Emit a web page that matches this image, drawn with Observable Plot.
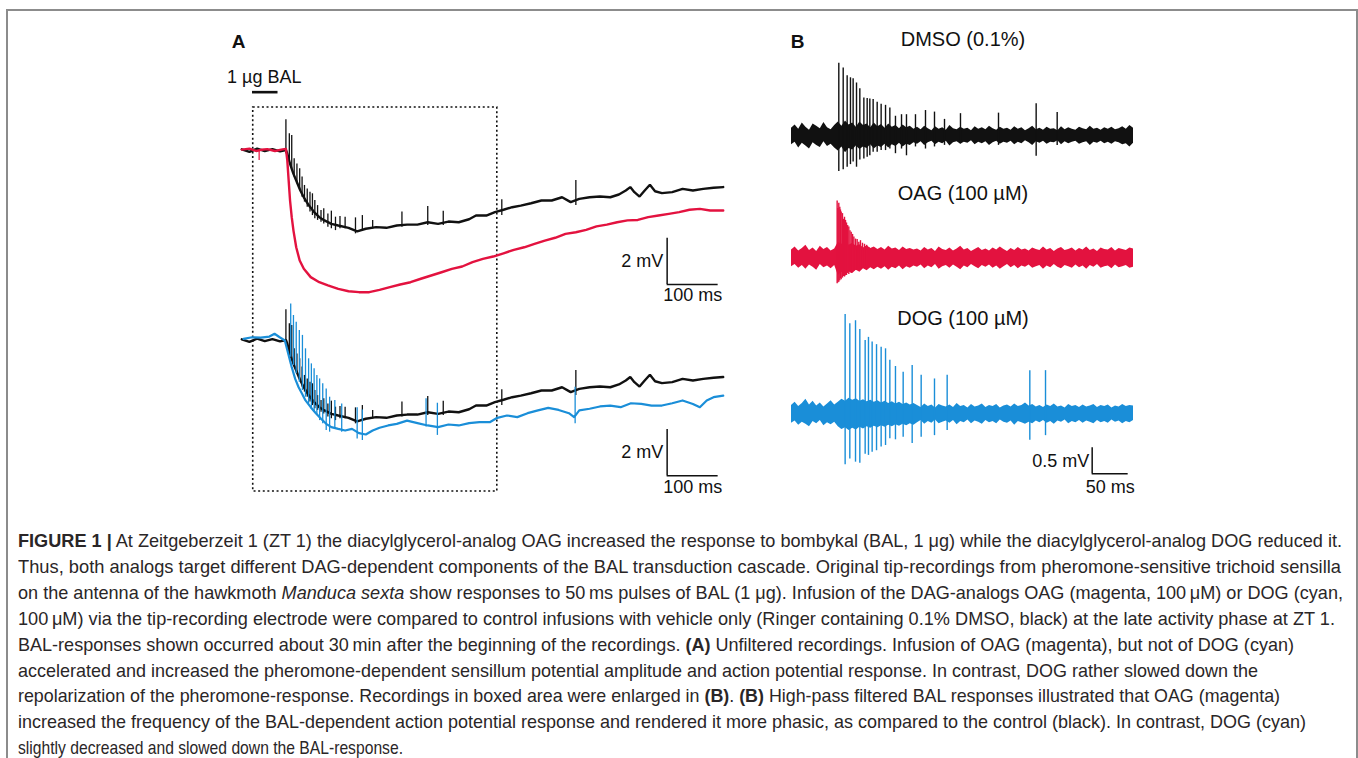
<!DOCTYPE html>
<html>
<head>
<meta charset="utf-8">
<script src="https://cdn.jsdelivr.net/npm/d3@7"></script>
<script src="https://cdn.jsdelivr.net/npm/@observablehq/plot@0.6"></script>
<style>
  body { margin: 0; background: #fff; }
  #fig { position: relative; width: 1358px; height: 758px; overflow: hidden; background: #fff; font-family: "Liberation Sans", Arial, sans-serif; color: #111; }
  #frame { position: absolute; left: 6px; top: 9px; width: 1348px; height: 800px; border: 2px solid #8c8c8c; border-bottom: none; }
  .lbl { position: absolute; white-space: nowrap; }
  .cap { position: absolute; white-space: nowrap; left: 18px; font-size: 19px; line-height: 22.8px; color: #2a2627; transform-origin: 0 0; }
  #panelA, #panelB { position: absolute; }
</style>
</head>
<body>
<div id="fig">
  <div id="frame"></div>
  <div id="panelA" style="left:200px;top:20px"></div>
  <div id="panelB" style="left:760px;top:20px"></div>
</div>
<script>
// ---------------- DATA (t in ms, v in mV) ----------------
// Panel A: unfiltered recordings
const dmsoA = [[0,0.05],[15,-0.06],[30,0.08],[45,-0.03],[60,0.06],[75,-0.04],[86.5,0.02],
[89.2,-0.14],[94.6,-0.58],[101.3,-1.01],[108.1,-1.37],[114.8,-1.73],[121.6,-2.02],[131.7,-2.38],[141.8,-2.66],[151.9,-2.88],[162.1,-3.02],[175.6,-3.17],[189.1,-3.24],[209.3,-3.34],[226.2,-3.49],[243.1,-3.38],[263.4,-3.31],[283.6,-3.34],[303.9,-3.24],[324.1,-3.20],[344.4,-3.20],[364.6,-3.10],[384.9,-3.17],[405.2,-3.07],[425.4,-3.10],[445.7,-2.97],[459.2,-2.81],[479.4,-2.81],[496.3,-2.66],[513.2,-2.56],[530.1,-2.45],[547.0,-2.38],[567.2,-2.28],[587.5,-2.16],[607.7,-2.16],[628.0,-2.02],[644.9,-2.23],[661.7,-2.09],[682.0,-2.02],[702.2,-1.99],[722.5,-2.02],[739.4,-1.90],[752.9,-1.73],[761.7,-1.58],[769.8,-1.80],[779.9,-1.99],[790.0,-1.73],[800.2,-1.48],[810.3,-1.76],[823.8,-1.84],[844.0,-1.80],[864.3,-1.66],[884.5,-1.73],[904.8,-1.66],[925.0,-1.61],[943.9,-1.58]];
const dmsoSpikesA = [[86.5,1.33,-0.14],[93.2,0.72,-0.50],[97.9,0.65,-0.79],[102.7,-0.36,-1.15],[108.1,-0.58,-1.44],[113.5,-0.79,-1.73],[118.2,-1.15,-2.02],[122.9,-1.51,-2.23],[128.3,-1.66,-2.45],[133.7,-1.80,-2.66],[138.5,-1.87,-2.81],[143.2,-2.16,-2.95],[148.6,-2.38,-3.02],[155.3,-2.59,-3.10],[160.7,-2.52,-3.17],[168.8,-2.74,-3.31],[175.6,-2.62,-3.38],[183.7,-2.88,-3.46],[192.5,-2.85,-3.38],[202.6,-2.88,-3.38],[222.9,-2.91,-3.60],[236.4,-2.81,-3.49],[256.6,-3.02,-3.38],[314.0,-2.66,-3.31],[364.6,-2.42,-3.24],[395.0,-2.62,-3.24],[509.8,-2.13,-2.81],[655.0,-1.30,-2.38]];
const oagA = [[0,0.04],[15,0.08],[28,-0.02],[38,0.03],[50,0.06],[65,-0.02],[80,0.05],[86.5,0.07],[89.2,-0.43],[91.9,-1.30],[94.6,-2.16],[97.9,-2.88],[101.3,-3.46],[106.7,-4.18],[113.5,-4.75],[121.6,-5.11],[135.1,-5.47],[151.9,-5.69],[168.8,-5.83],[189.1,-5.98],[209.3,-6.08],[229.6,-6.12],[249.9,-6.12],[270.1,-6.02],[290.4,-5.90],[310.6,-5.79],[330.9,-5.69],[351.1,-5.54],[371.4,-5.40],[391.7,-5.26],[411.9,-5.11],[432.2,-5.01],[452.4,-4.82],[472.7,-4.68],[492.9,-4.58],[513.2,-4.44],[533.5,-4.29],[553.7,-4.18],[574.0,-4.03],[594.2,-3.89],[614.5,-3.77],[634.7,-3.60],[655.0,-3.53],[675.2,-3.43],[695.5,-3.28],[715.7,-3.20],[736.0,-3.10],[756.3,-3.02],[776.5,-3.00],[796.8,-2.88],[817.0,-2.81],[837.3,-2.74],[857.6,-2.66],[877.8,-2.56],[898.1,-2.52],[918.3,-2.59],[944.0,-2.59]];
const oagSpikesA = [[34,0.02,-0.43]];
const dogA = [[3.4,0.07],[20.3,0.14],[37.2,0.12],[54.1,0.17],[64.2,0.29],[74.3,0.14],[84.4,0.0],[91.2,-0.58],[97.9,-1.15],[104.7,-1.66],[111.4,-2.02],[118.2,-2.30],[124.9,-2.59],[135.1,-2.88],[145.2,-3.14],[155.3,-3.38],[165.5,-3.60],[175.6,-3.74],[189.1,-3.82],[202.6,-3.89],[216.1,-3.82],[229.6,-4.00],[243.1,-4.06],[256.6,-3.89],[270.1,-3.77],[287.0,-3.67],[303.9,-3.60],[324.1,-3.46],[344.4,-3.57],[364.6,-3.67],[384.9,-3.74],[405.2,-3.63],[425.4,-3.67],[445.7,-3.57],[465.9,-3.53],[486.2,-3.53],[501.0,-3.34],[519.9,-3.24],[540.2,-3.31],[560.4,-3.14],[580.7,-3.02],[600.9,-2.91],[621.2,-3.00],[641.5,-3.14],[651.6,-3.31],[661.7,-3.02],[682.0,-2.95],[702.2,-2.85],[722.5,-2.81],[742.8,-2.88],[763.0,-2.71],[783.3,-2.74],[803.5,-2.81],[823.8,-2.81],[844.0,-2.71],[864.3,-2.59],[884.5,-2.74],[898.1,-2.88],[911.6,-2.59],[925.0,-2.45],[944.0,-2.38]];
const dogSpikesA = [[95.9,1.58,-0.72],[101.3,1.08,-1.08],[106.7,0.79,-1.44],[112.8,0.43,-1.80],[118.9,0.22,-2.16],[124.9,-0.36,-2.45],[131.0,-0.79,-2.74],[136.4,-1.01,-2.95],[141.8,-1.22,-3.10],[147.2,-1.51,-3.24],[152.6,-1.66,-3.46],[158.7,-1.87,-3.60],[165.5,-2.09,-3.89],[172.2,-2.45,-3.96],[182.4,-2.59,-3.82],[195.9,-2.74,-3.96],[226.2,-2.91,-4.25],[236.4,-3.00,-4.32],[361.3,-2.52,-3.74],[383.5,-2.71,-4.10],[653.6,-2.02,-3.60]];
const stimulusA = {start: 21, end: 71, label: "1 µg BAL"};
const boxA = {t1: 22.4, t2: 501, v1: -14.73, v2: 1.86};

// Panel B: high-pass filtered. Noise envelope sampled every 5 ms (values in 0.01 mV), spikes [t, top, bottom]
const noiseStepB = 5;
const dmsoHiB = [14,20,12,24,16,10,22,18,13,25,15,11,19, 26,18,28,20,24,16,26,19,22,15,24,17,21,14,22,16,19,13,20,15,18,12, 16,11,18,13,9,17,12,15,10,19,13,11,16,12,14,9,17,12,15,11,18,13,10,16,12,14,10,17,12,15,9,13,18,11,14,10,16,12,13,9,17,11,15,12,10,16,13,11,18,12,14,10,15,12,16,11,13,17,12,19,14];
const dmsoLoB = [18,13,24,15,20,26,14,19,23,12,21,17,24, 30,22,33,25,28,20,27,22,25,18,26,20,23,17,24,18,21,15,22,17,19,14, 17,12,19,14,11,18,13,16,11,20,14,12,17,13,15,10,18,13,16,12,19,14,11,17,13,15,11,18,13,16,10,14,19,12,15,11,17,13,14,10,18,12,16,13,11,17,14,12,19,13,15,11,16,13,17,12,14,18,16,22,15];
const oagHiB = [15,21,13,18,24,14,19,12,22,16,20,13,17, 30,26,32,24,28,22,25,19,23,18,21,16,20,15,22,17,19,14,21,16,18,15, 17,13,20,15,18,12,21,16,14,19,13,17,22,15,18,12,16,20,14,17,13,19,15,21,16,12,18,14,20,15,17,13,19,16,14,21,15,18,12,17,20,14,16,19,13,18,15,21,14,17,12,19,16,15,20,13,18,16,14,19,17];
const oagLoB = [17,13,20,15,22,14,18,24,13,19,16,21,15, 34,28,36,27,30,24,28,21,25,19,23,18,22,17,24,18,21,16,23,17,20,16, 18,14,21,16,19,13,22,17,15,20,14,18,23,16,19,13,17,21,15,18,14,20,16,22,17,13,19,15,21,16,18,14,20,17,15,22,16,19,13,18,21,15,17,20,14,19,16,22,15,18,13,20,17,16,21,14,19,17,15,20,18];
const dogHiB = [16,22,14,20,28,17,24,15,21,13,19,25,17, 22,28,24,30,26,29,24,27,23,26,22,25,21,24,20,23,19,22,18,21,17,20, 16,12,19,14,17,11,18,15,13,17,12,20,14,16,11,18,13,15,19,12,16,14,18,11,15,17,13,19,14,16,21,15,18,13,16,12,17,14,19,13,15,11,18,14,16,12,17,13,15,18,12,16,14,17,11,15,13,18,14,16,15];
const dogLoB = [18,14,22,16,20,25,15,19,13,23,17,21,16, 25,30,27,32,28,31,26,29,25,28,24,27,23,26,22,25,21,24,20,23,19,22, 17,13,20,15,18,12,19,16,14,18,13,21,15,17,12,19,14,16,20,13,17,15,19,12,16,18,14,22,15,17,20,16,19,14,17,13,18,15,20,14,16,12,19,15,17,13,18,14,16,19,13,17,15,18,12,16,14,19,15,17,13];
const dmsoSpikesB = [[65.7,1.39,-0.69],[71.8,1.30,-0.66],[77.3,1.15,-0.61],[81.9,1.11,-0.56],[85.6,1.09,-0.51],[90.3,1.01,-0.61],[94.9,0.90,-0.47],[100.5,0.72,-0.45],[105.1,0.71,-0.42],[108.8,0.70,-0.39],[113.4,0.69,-0.32],[119.0,0.64,-0.32],[124.5,0.60,-0.29],[130.6,0.58,-0.29],[136.6,0.53,-0.26],[144.4,0.37,-0.35],[152.8,0.40,-0.26],[159.7,0.40,-0.39],[172.2,0.40,-0.22],[186.1,0.48,-0.26],[198.6,0.45,-0.22],[212.5,0.31,-0.19],[234.7,0.42,-0.16],[287.5,0.43,-0.19],[339.8,0.61,-0.40],[369.0,0.44,-0.19]];
const oagSpikesB = [[63.4,1.09,-0.50],[64.5,0.95,-0.48],[65.7,1.05,-0.47],[67.1,0.97,-0.44],[68.0,0.92,-0.40],[69.0,0.88,-0.42],[70.8,0.85,-0.39],[72.2,0.74,-0.36],[73.6,0.78,-0.37],[75.0,0.72,-0.33],[76.4,0.67,-0.34],[78.0,0.62,-0.30],[79.6,0.59,-0.32],[81.2,0.52,-0.28],[82.9,0.49,-0.30],[84.8,0.45,-0.27],[86.6,0.40,-0.26],[88.9,0.36,-0.24],[91.2,0.35,-0.23],[93.5,0.30,-0.22],[95.8,0.33,-0.21],[98.6,0.28,-0.20],[101.4,0.26,-0.19],[104.4,0.24,-0.18],[107.4,0.20,-0.19]];
const dogSpikesB = [[74.5,1.91,-0.98],[81.0,1.73,-0.87],[88.9,1.79,-0.93],[94.9,1.62,-0.95],[102.3,1.41,-0.78],[106.9,1.47,-0.80],[112.0,1.38,-0.74],[118.1,1.33,-0.71],[124.5,1.28,-0.64],[130.6,1.25,-0.61],[136.6,1.03,-0.48],[144.4,0.91,-0.50],[155.1,0.80,-0.45],[167.6,0.93,-0.57],[180.1,0.74,-0.45],[198.6,0.67,-0.42],[216.2,0.74,-0.32],[331.0,0.83,-0.51],[352.8,0.83,-0.42]];
const titlesB = ["DMSO (0.1%)", "OAG (100 µM)", "DOG (100 µM)"];

const captionLines = [
  [["b","FIGURE 1 |"],["n"," At Zeitgeberzeit 1 (ZT 1) the diacylglycerol-analog OAG increased the response to bombykal (BAL, 1 \u03BCg) while the diacylglycerol-analog DOG reduced it."]],
  [["n","Thus, both analogs target different DAG-dependent components of the BAL transduction cascade. Original tip-recordings from pheromone-sensitive trichoid sensilla"]],
  [["n","on the antenna of the hawkmoth "],["i","Manduca sexta"],["n"," show responses to 50\u2009ms pulses of BAL (1 \u03BCg). Infusion of the DAG-analogs OAG (magenta, 100\u2009\u03BCM) or DOG (cyan,"]],
  [["n","100\u2009\u03BCM) via the tip-recording electrode were compared to control infusions with vehicle only (Ringer containing 0.1% DMSO, black) at the late activity phase at ZT 1."]],
  [["n","BAL-responses shown occurred about 30\u2009min after the beginning of the recordings. "],["b","(A)"],["n"," Unfiltered recordings. Infusion of OAG (magenta), but not of DOG (cyan)"]],
  [["n","accelerated and increased the pheromone-dependent sensillum potential amplitude and action potential response. In contrast, DOG rather slowed down the"]],
  [["n","repolarization of the pheromone-response. Recordings in boxed area were enlarged in "],["b","(B)"],["n",". "],["b","(B)"],["n"," High-pass filtered BAL responses illustrated that OAG (magenta)"]],
  [["n","increased the frequency of the BAL-dependent action potential response and rendered it more phasic, as compared to the control (black). In contrast, DOG (cyan)"]],
  [["n","slightly decreased and slowed down the BAL-response."]]
];
const captionLineEnds = [1342, 1341, 1343, 1335, 1294, 1258, 1280, 1306, 403];

// ---------------- STYLE / LAYOUT ----------------
const BLACK = "#111", RED = "#e3123f", BLUE = "#1a8ed8";
const FONT = "'Liberation Sans', Arial, sans-serif";
const offsetA2 = -8.207;             // vertical stacking of the second group in A (mV)
const offsetB = [0, -2.352, -5.352]; // vertical stacking of the traces in B (mV)
const T = d => d[0], V = d => d[1];

// ---------------- PANEL A ----------------
const sbA = [{t: 834, v: -5.79}, {t: 834, v: -14.05}];
const plotA = Plot.plot({
  width: 540, height: 490, margin: 0,
  x: {domain: [-80.98, 977.84], axis: null},
  y: {domain: [-15.5508, 5.6156], axis: null},
  style: {fontFamily: FONT, fontSize: "18px", background: "none", overflow: "visible", color: "#111"},
  marks: [
    Plot.rect([boxA], {x1: "t1", x2: "t2", y1: "v1", y2: "v2", fill: "none", stroke: "#111", strokeWidth: 1.6, strokeDasharray: "2,2.6"}),
    Plot.ruleY([stimulusA], {y: 2.52, x1: "start", x2: "end", stroke: "#111", strokeWidth: 2.6}),
    // group 1 : DMSO (black) vs OAG (red)
    Plot.line(dmsoA, {x: T, y: V, stroke: BLACK, strokeWidth: 2.4, strokeLinejoin: "miter"}),
    Plot.ruleX(dmsoSpikesA, {x: T, y1: d => d[2], y2: d => d[1], stroke: BLACK, strokeWidth: 1.3}),
    Plot.line(oagA, {x: T, y: V, stroke: RED, strokeWidth: 2.4}),
    Plot.ruleX(oagSpikesA, {x: T, y1: d => d[2], y2: d => d[1], stroke: RED, strokeWidth: 1.2}),
    // group 2 : DMSO (black) vs DOG (blue)
    Plot.line(dmsoA, {x: T, y: d => d[1] + offsetA2, stroke: BLACK, strokeWidth: 2.4, strokeLinejoin: "miter"}),
    Plot.ruleX(dmsoSpikesA, {x: T, y1: d => d[2] + offsetA2, y2: d => d[1] + offsetA2, stroke: BLACK, strokeWidth: 1.3}),
    Plot.line(dogA, {x: T, y: d => d[1] + offsetA2, stroke: BLUE, strokeWidth: 2.2}),
    Plot.ruleX(dogSpikesA, {x: T, y1: d => d[2] + offsetA2, y2: d => d[1] + offsetA2, stroke: BLUE, strokeWidth: 1.3}),
    // scale bars
    Plot.ruleX(sbA, {x: "t", y1: "v", y2: d => d.v + 2, stroke: "#111", strokeWidth: 1.5}),
    Plot.ruleY(sbA, {y: "v", x1: "t", x2: d => d.t + 100, stroke: "#111", strokeWidth: 1.5}),
    Plot.text(sbA, {x: "t", y: d => d.v + 1, text: () => "2 mV", textAnchor: "end", dx: -4, fill: "#111"}),
    Plot.text(sbA, {x: d => d.t + 50, y: "v", text: () => "100 ms", dy: 11, fill: "#111"})
  ]
});
document.getElementById("panelA").appendChild(plotA);

// ---------------- PANEL B ----------------
const sbB = [{t: 417.6, v: -6.506}];
const noiseB = [[dmsoLoB, dmsoHiB], [oagLoB, oagHiB], [dogLoB, dogHiB]];
const spikesB = [dmsoSpikesB, oagSpikesB, dogSpikesB];
const colB = [BLACK, RED, BLUE];
const marksB = [];
noiseB.forEach(([lo, hi], i) => {
  const env = hi.map((h, k) => ({t: k * noiseStepB, lo: -lo[k] / 100, hi: h / 100}));
  marksB.push(Plot.areaY(env, {x: "t", y1: d => d.lo + offsetB[i], y2: d => d.hi + offsetB[i], fill: colB[i]}));
  marksB.push(Plot.ruleX(spikesB[i], {x: T, y1: d => d[2] + offsetB[i], y2: d => d[1] + offsetB[i], stroke: colB[i], strokeWidth: 1.4}));
});
marksB.push(
  Plot.ruleX(sbB, {x: "t", y1: "v", y2: d => d.v + 0.5, stroke: "#111", strokeWidth: 1.5}),
  Plot.ruleY(sbB, {y: "v", x1: "t", x2: d => d.t + 50, stroke: "#111", strokeWidth: 1.5}),
  Plot.text(sbB, {x: "t", y: d => d.v + 0.25, text: () => "0.5 mV", textAnchor: "end", dx: -3, fill: "#111"}),
  Plot.text(sbB, {x: d => d.t + 25, y: "v", text: () => "50 ms", dy: 13.5, fill: "#111"})
);
const plotB = Plot.plot({
  width: 400, height: 490, margin: 0,
  x: {domain: [-43.056, 512.5], axis: null},
  y: {domain: [-7.2115, 2.2115], axis: null},
  style: {fontFamily: FONT, fontSize: "18px", background: "none", overflow: "visible", color: "#111"},
  marks: marksB
});
document.getElementById("panelB").appendChild(plotB);

// ---------------- LABELS ----------------
const fig = document.getElementById("fig");
function label(text, cx, cy, size, opts = {}) {
  const d = document.createElement("div");
  d.className = "lbl";
  d.textContent = text;
  d.style.fontSize = size + "px";
  d.style.lineHeight = (size * 1.2) + "px";
  d.style.fontWeight = opts.bold ? "bold" : "normal";
  d.style.top = (cy - 0.59 * size) + "px";
  if (opts.left !== undefined) { d.style.left = opts.left + "px"; }
  else { d.style.left = (cx - 150) + "px"; d.style.width = "300px"; d.style.textAlign = "center"; }
  fig.appendChild(d);
}
label("A", 238.5, 42, 19, {bold: true});
label("B", 797.5, 42, 19, {bold: true});
label(stimulusA.label, 0, 78, 18, {left: 227});
const titleY = [39, 193, 318];
titlesB.forEach((t, i) => label(t, 963, titleY[i], 20));

// ---------------- CAPTION ----------------
captionLines.forEach((segs, i) => {
  const d = document.createElement("div");
  d.className = "cap";
  d.style.top = (548 + i * 25.9 - 18) + "px";
  segs.forEach(([k, s]) => {
    const sp = document.createElement("span");
    sp.textContent = s;
    if (k === "b") sp.style.fontWeight = "bold";
    if (k === "i") sp.style.fontStyle = "italic";
    d.appendChild(sp);
  });
  fig.appendChild(d);
  const natural = d.getBoundingClientRect().width;
  const f = (captionLineEnds[i] - 18) / natural;
  d.style.transform = `scaleX(${f.toFixed(4)})`;
});
</script>
</body>
</html>
